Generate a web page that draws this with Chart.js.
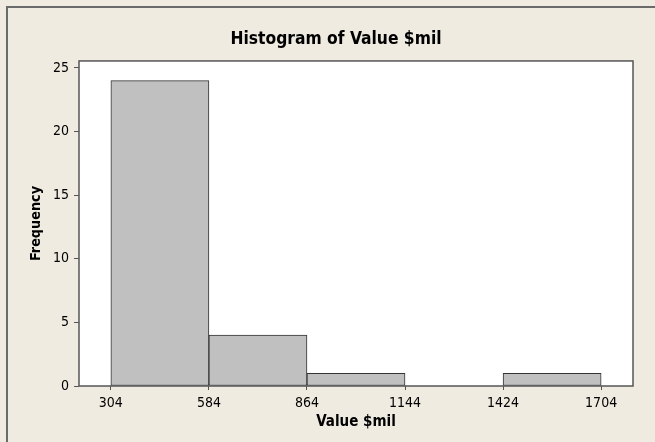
<!DOCTYPE html>
<html lang="en">
<head>
  <meta charset="UTF-8">
  <title>Histogram of Value $mil</title>
  <script src="https://cdn.jsdelivr.net/npm/chart.js"></script>
  <style>
    html, body { margin: 0; padding: 0; background: #efebe1; }
    canvas { position: absolute; left: 0; top: 0; }
  </style>
</head>
<body>
  <canvas id="histChart" width="655" height="442"></canvas>

  <script>
  // bins of width 280 starting at 304
  const binCenters = [444, 724, 1004, 1284, 1564];
  const counts = [24, 4, 1, 0, 1];
  const xTicks = [304, 584, 864, 1144, 1424, 1704];
  const yTicks = [0, 5, 10, 15, 20, 25];

  const FONT = "'DejaVu Sans Condensed', 'DejaVu Sans', sans-serif";

  // beige page, gray frame, white plot area with dark border
  const framePlugin = {
    id: 'frame',
    afterLayout(chart) {
      // Minitab centres the title a little right of the canvas middle
      chart.titleBlock.left = 39;
    },
    beforeDraw(chart) {
      const { ctx, chartArea: a } = chart;
      ctx.save();
      ctx.fillStyle = '#efebe1';
      ctx.fillRect(0, 0, chart.width, chart.height);
      ctx.strokeStyle = '#6a6a6a';
      ctx.lineWidth = 2;
      ctx.beginPath();
      ctx.moveTo(7, chart.height);
      ctx.lineTo(7, 7);
      ctx.lineTo(chart.width, 7);
      ctx.stroke();
      ctx.fillStyle = '#ffffff';
      ctx.fillRect(a.left, a.top, a.right - a.left, a.bottom - a.top);
      ctx.restore();
    },
    afterDraw(chart) {
      const { ctx, chartArea: a } = chart;
      ctx.save();
      ctx.strokeStyle = '#555555';
      ctx.lineWidth = 1.5;
      ctx.strokeRect(a.left, a.top, a.right - a.left, a.bottom - a.top);
      ctx.restore();
    }
  };

  new Chart(document.getElementById('histChart'), {
    type: 'bar',
    data: {
      datasets: [{
        label: 'Frequency',
        data: binCenters.map((c, i) => ({ x: c, y: counts[i] })),
        backgroundColor: '#c0c0c0',
        borderColor: '#333333',
        borderWidth: 1,
        borderSkipped: false,
        barPercentage: 1,
        categoryPercentage: 1
      }]
    },
    options: {
      responsive: false,
      animation: false,
      devicePixelRatio: 1,
      layout: { padding: { left: 0, right: 22, top: 0, bottom: 0 } },
      plugins: {
        legend: { display: false },
        tooltip: { enabled: false },
        title: {
          display: true,
          text: 'Histogram of Value $mil',
          color: '#000',
          font: { family: FONT, size: 17.3, weight: 'bold' },
          padding: { top: 29, bottom: 11.2 }
        }
      },
      scales: {
        x: {
          type: 'linear',
          min: 213,
          max: 1795,
          offset: false,
          afterBuildTicks: s => { s.ticks = xTicks.map(v => ({ value: v })); },
          afterFit: s => { s.height = 56; },
          ticks: {
            color: '#000',
            font: { family: FONT, size: 14 },
            padding: 5,
            maxRotation: 0,
            autoSkip: false,
            callback: v => String(v)
          },
          grid: { offset: false, drawOnChartArea: false, drawTicks: true, tickLength: 4, color: '#555' },
          border: { display: false },
          title: {
            display: true,
            text: 'Value $mil',
            color: '#000',
            font: { family: FONT, size: 15, weight: 'bold' },
            padding: { top: 0, bottom: 11 }
          }
        },
        y: {
          min: 0,
          max: 25.55,
          afterBuildTicks: s => { s.ticks = yTicks.map(v => ({ value: v })); },
          afterFit: s => { s.width = 79; },
          ticks: {
            color: '#000',
            font: { family: FONT, size: 14 },
            padding: 5,
            autoSkip: false
          },
          grid: { drawOnChartArea: false, drawTicks: true, tickLength: 5, color: '#555' },
          border: { display: false },
          title: {
            display: true,
            text: 'Frequency',
            color: '#000',
            font: { family: FONT, size: 14.3, weight: 'bold' },
            padding: { top: 27.4, bottom: 0 }
          }
        }
      }
    },
    plugins: [framePlugin]
  });
  </script>
</body>
</html>
